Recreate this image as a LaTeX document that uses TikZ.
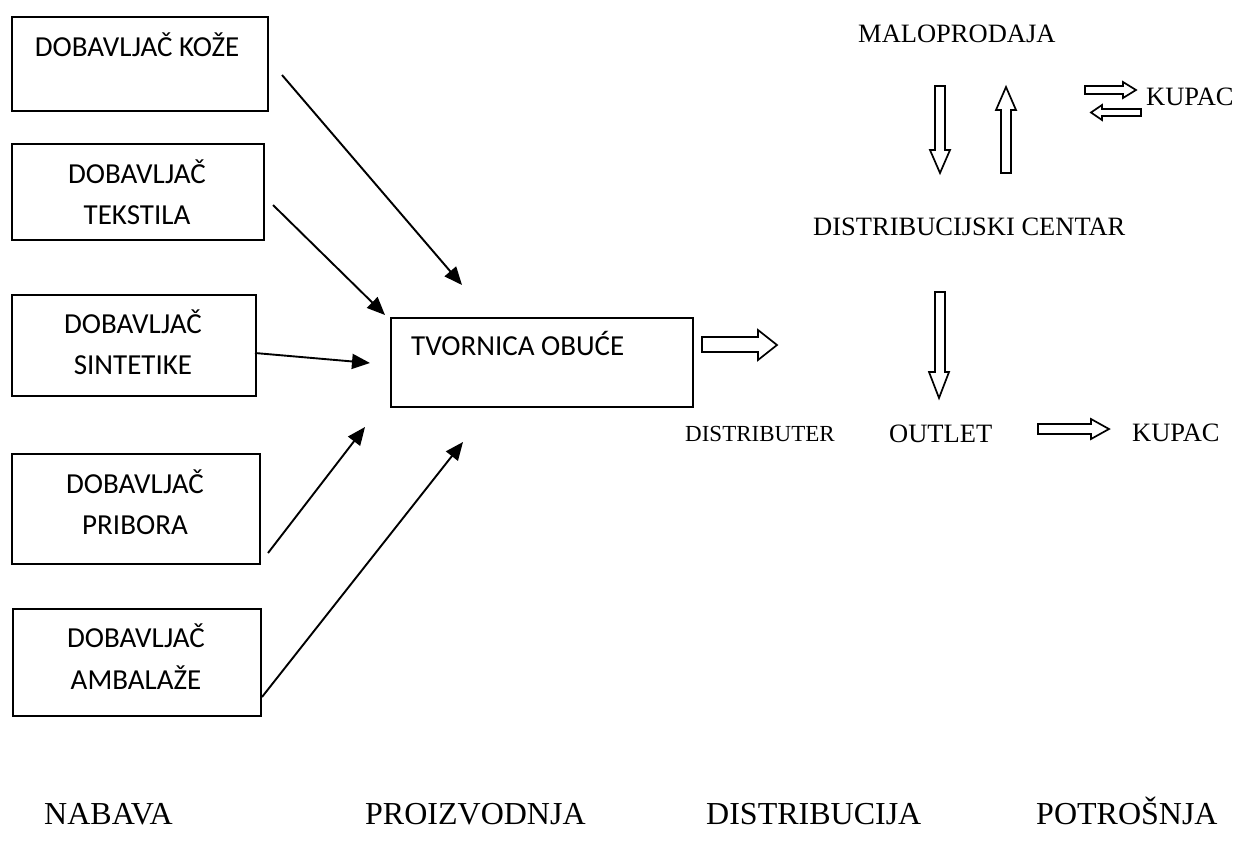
\documentclass[tikz,border=0pt]{standalone}
\usepackage{fontspec}
\setmainfont{Liberation Serif}
\newfontfamily\boxfont{Carlito}
\usetikzlibrary{arrows.meta}
\tikzset{
  box/.style={draw, line width=2pt, inner sep=0pt, anchor=north west},
  boxtext/.style={font=\boxfont\fontsize{29}{35}\selectfont, inner sep=0pt, anchor=base},
  serif/.style={font=\fontsize{26.5}{31}\selectfont, inner sep=0pt, anchor=base west},
  small serif/.style={font=\fontsize{23}{28}\selectfont, inner sep=0pt, anchor=base west},
  stage/.style={font=\fontsize{32}{38}\selectfont, inner sep=0pt, anchor=base west},
  feed/.style={line width=1.9pt, -{Triangle[length=18pt,width=15pt]}},
  hollow/.style={draw, line width=1.7pt, line join=miter, fill=white}
}
\begin{document}
\begin{tikzpicture}[x=1pt, y=-1pt]
\useasboundingbox[fill=white] (0,0) rectangle (1239,855);

% supplier boxes
\node[box, minimum width=256pt, minimum height=94pt] (b1) at (11,16) {};
\node[box, minimum width=252pt, minimum height=96pt] (b2) at (11,143) {};
\node[box, minimum width=244pt, minimum height=101pt] (b3) at (11,294) {};
\node[box, minimum width=248pt, minimum height=110pt] (b4) at (11,453) {};
\node[box, minimum width=248pt, minimum height=107pt] (b5) at (12,608) {};
\node[box, minimum width=302pt, minimum height=89pt] (fac) at (390,317) {};

\node[boxtext] (t1) at (137,56) {DOBAVLJAČ KOŽE};
\node[boxtext] (t2a) at (137,183) {DOBAVLJAČ};
\node[boxtext] (t2b) at (137,224) {TEKSTILA};
\node[boxtext] (t3a) at (133,333) {DOBAVLJAČ};
\node[boxtext] (t3b) at (133,374) {SINTETIKE};
\node[boxtext] (t4a) at (135,493) {DOBAVLJAČ};
\node[boxtext] (t4b) at (135,534) {PRIBORA};
\node[boxtext] (t5a) at (136,647) {DOBAVLJAČ};
\node[boxtext] (t5b) at (136,689) {AMBALAŽE};
\node[boxtext, anchor=base west] (tf) at (411,355) {TVORNICA OBUĆE};

% feed arrows
\coordinate (s1) at (282,75);   \coordinate (e1) at (462,285);
\coordinate (s2) at (273,205);  \coordinate (e2) at (385,315);
\coordinate (s3) at (255,353);  \coordinate (e3) at (370,363);
\coordinate (s4) at (268,553);  \coordinate (e4) at (365,427);
\coordinate (s5) at (262,697);  \coordinate (e5) at (463,442);
\draw[feed] (s1) -- (e1);
\draw[feed] (s2) -- (e2);
\draw[feed] (s3) -- (e3);
\draw[feed] (s4) -- (e4);
\draw[feed] (s5) -- (e5);

% right side labels
\node[serif] (malo) at (858,42) {MALOPRODAJA};
\node[serif] (kupac1) at (1146,105) {KUPAC};
\node[serif] (dc) at (813,235) {DISTRIBUCIJSKI CENTAR};
\node[small serif] (distr) at (685,441) {DISTRIBUTER};
\node[serif] (outlet) at (889,442) {OUTLET};
\node[serif] (kupac2) at (1132,441) {KUPAC};

% block arrows
\draw[hollow] (702,337) -- (758,337) -- (758,330) -- (777,345) -- (758,360) -- (758,352) -- (702,352) -- cycle;
\draw[hollow] (935,86) -- (945,86) -- (945,150) -- (950,150) -- (940,173) -- (930,150) -- (935,150) -- cycle;
\draw[hollow] (1001,173) -- (1011,173) -- (1011,110) -- (1016,110) -- (1006,87) -- (996,110) -- (1001,110) -- cycle;
\draw[hollow] (1085,86) -- (1123,86) -- (1123,82) -- (1136,90) -- (1123,98) -- (1123,94) -- (1085,94) -- cycle;
\draw[hollow] (1141,109) -- (1102,109) -- (1102,105) -- (1091,112.5) -- (1102,120) -- (1102,116) -- (1141,116) -- cycle;
\draw[hollow] (935,292) -- (945,292) -- (945,372) -- (949,372) -- (939,398) -- (929,372) -- (935,372) -- cycle;
\draw[hollow] (1038,424) -- (1091,424) -- (1091,419) -- (1109,429) -- (1091,439) -- (1091,434) -- (1038,434) -- cycle;

% stages
\node[stage] (nab) at (44,824) {NABAVA};
\node[stage] (pro) at (365,824) {PROIZVODNJA};
\node[stage] (dis) at (706,824) {DISTRIBUCIJA};
\node[stage] (pot) at (1036,824) {POTROŠNJA};
\end{tikzpicture}
\end{document}
